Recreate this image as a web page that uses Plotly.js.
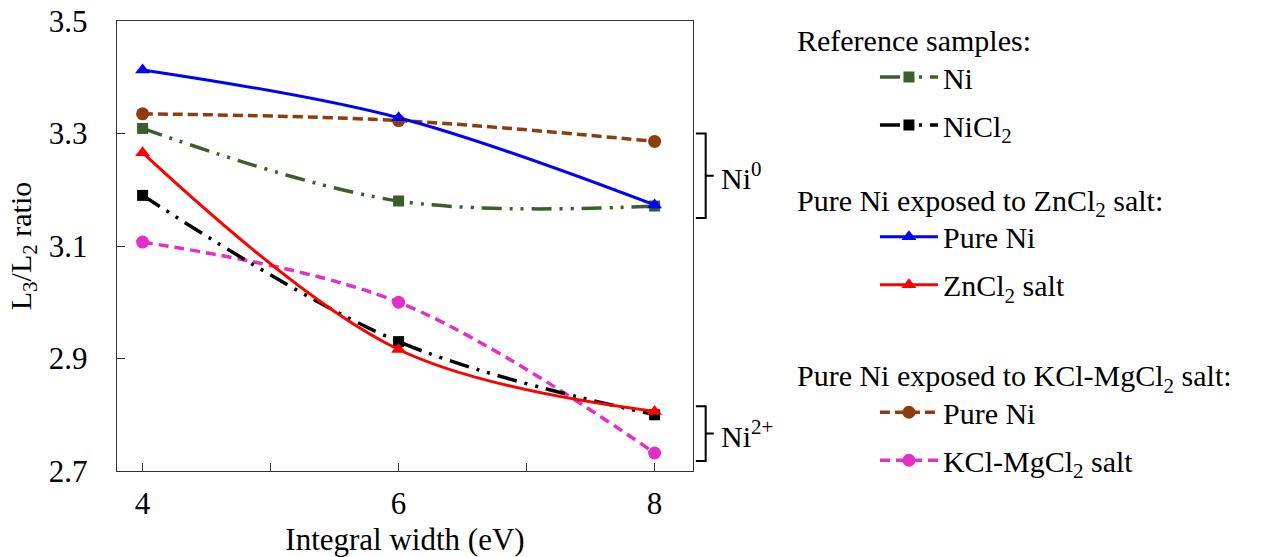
<!DOCTYPE html>
<html>
<head>
<meta charset="utf-8">
<script src="https://cdn.plot.ly/plotly-3.0.1.min.js"></script>
<style>html,body{margin:0;padding:0;background:#fff;} #chart{width:1265px;height:557px;}</style>
</head>
<body>
<div id="chart"></div>
<script>
// Data
const widths = [4, 6, 8];
const refNi = [3.309, 3.180, 3.171];
const refNiCl2 = [3.190, 2.930, 2.800];
const znPureNi = [3.413, 3.328, 3.173];
const znSalt = [3.266, 2.916, 2.806];
const kclPureNi = [3.335, 3.323, 3.286];
const kclSalt = [3.107, 3.000, 2.732];

const xTicks = [4, 6, 8];
const yTicks = [2.7, 2.9, 3.1, 3.3, 3.5];

const FONT = '"Liberation Serif", "Times New Roman", serif';

function tr(y, name, color, symbol, msize, dash, width, legend, group) {
  return {
    x: widths, y: y, name: name, type: 'scatter', mode: 'lines+markers',
    line: {color: color, width: width, dash: dash, shape: 'spline', smoothing: 1},
    marker: {color: color, symbol: symbol, size: msize},
    legend: legend, legendgroup: group
  };
}
const dashdotdot = '20px,8px,3px,8px,3px,8px';
const traces = [
  tr(kclPureNi, 'Pure Ni', '#8B3E0F', 'circle', 13, '10px,5px', 3.5, 'legend3', 'g5'),
  tr(kclSalt, 'KCl-MgCl<sub>2</sub> salt', '#E22FC9', 'circle', 13, '10px,6px', 3.5, 'legend3', 'g6'),
  tr(refNi, 'Ni', '#3B5E2B', 'square', 11, dashdotdot, 3.5, 'legend', 'g1'),
  tr(refNiCl2, 'NiCl<sub>2</sub>', '#000000', 'square', 11, dashdotdot, 3.5, 'legend', 'g2'),
  tr(znPureNi, 'Pure Ni', '#0000FF', 'triangle-up', 13, 'solid', 3, 'legend2', 'g3'),
  tr(znSalt, 'ZnCl<sub>2</sub> salt', '#FF0000', 'triangle-up', 13, 'solid', 3, 'legend2', 'g4')
];

const LF = 30;
const legBase = {
  x: 1.177, xanchor: 'left', yanchor: 'top',
  font: {family: FONT, size: LF, color: '#000'},
  bgcolor: 'rgba(0,0,0,0)', borderwidth: 0,
  tracegroupgap: 6, indentation: 80, itemwidth: 58,
  traceorder: 'grouped'
};
function legTitle(t) { return {text: t, side: 'top', font: {family: FONT, size: LF, color: '#000'}}; }

const layout = {
  width: 1265, height: 557,
  margin: {l: 117, r: 572, t: 21, b: 86},
  paper_bgcolor: '#fff', plot_bgcolor: '#fff',
  font: {family: FONT, color: '#000'},
  showlegend: true,
  xaxis: {
    range: [3.8, 8.3], tickvals: xTicks, ticktext: xTicks.map(String),
    ticks: 'inside', ticklen: 8, tickcolor: '#333', tickwidth: 1,
    minor: {dtick: 1, tick0: 0, ticks: 'inside', ticklen: 8, tickcolor: '#333'},
    showgrid: false, zeroline: false, showline: true, linecolor: '#333', linewidth: 1.3, mirror: true,
    tickfont: {family: FONT, size: 31, color: '#000'}, ticklabelstandoff: 4,
    title: {text: 'Integral width (eV)', font: {family: FONT, size: 31, color: '#000'}, standoff: 8}
  },
  yaxis: {
    range: [2.7, 3.5], tickvals: yTicks, ticktext: yTicks.map(v => v.toFixed(1)),
    ticks: 'inside', ticklen: 8, tickcolor: '#333', tickwidth: 1,
    showgrid: false, zeroline: false, showline: true, linecolor: '#333', linewidth: 1.3, mirror: true,
    tickfont: {family: FONT, size: 31, color: '#000'}, ticklabelstandoff: 22,
    title: {text: 'L<sub>3</sub>/L<sub>2</sub> ratio', font: {family: FONT, size: 30, color: '#000'}, standoff: 8}
  },
  legend: Object.assign({}, legBase, {y: 1.02, title: legTitle('Reference samples:')}),
  legend2: Object.assign({}, legBase, {y: 0.665, title: legTitle('Pure Ni exposed to ZnCl<sub>2</sub> salt:')}),
  legend3: Object.assign({}, legBase, {y: 0.275, title: legTitle('Pure Ni exposed to KCl-MgCl<sub>2</sub> salt:')}),
  shapes: [
    {type: 'path', xref: 'paper', yref: 'y', path: 'M 1.005,3.300 L 1.022,3.300 L 1.022,3.150 L 1.005,3.150 M 1.022,3.225 L 1.036,3.225', line: {color: '#000', width: 2}},
    {type: 'path', xref: 'paper', yref: 'y', path: 'M 1.005,2.815 L 1.022,2.815 L 1.022,2.718 L 1.005,2.718 M 1.022,2.7665 L 1.036,2.7665', line: {color: '#000', width: 2}}
  ],
  annotations: [
    {xref: 'paper', yref: 'y', x: 1.045, y: 3.225, xanchor: 'left', yanchor: 'middle', showarrow: false, text: 'Ni<sup>0</sup>', font: {family: FONT, size: 30, color: '#000'}},
    {xref: 'paper', yref: 'y', x: 1.045, y: 2.7665, xanchor: 'left', yanchor: 'middle', showarrow: false, text: 'Ni<sup>2+</sup>', font: {family: FONT, size: 30, color: '#000'}}
  ]
};

Plotly.newPlot('chart', traces, layout, {displayModeBar: false, staticPlot: true});
</script>
</body>
</html>
